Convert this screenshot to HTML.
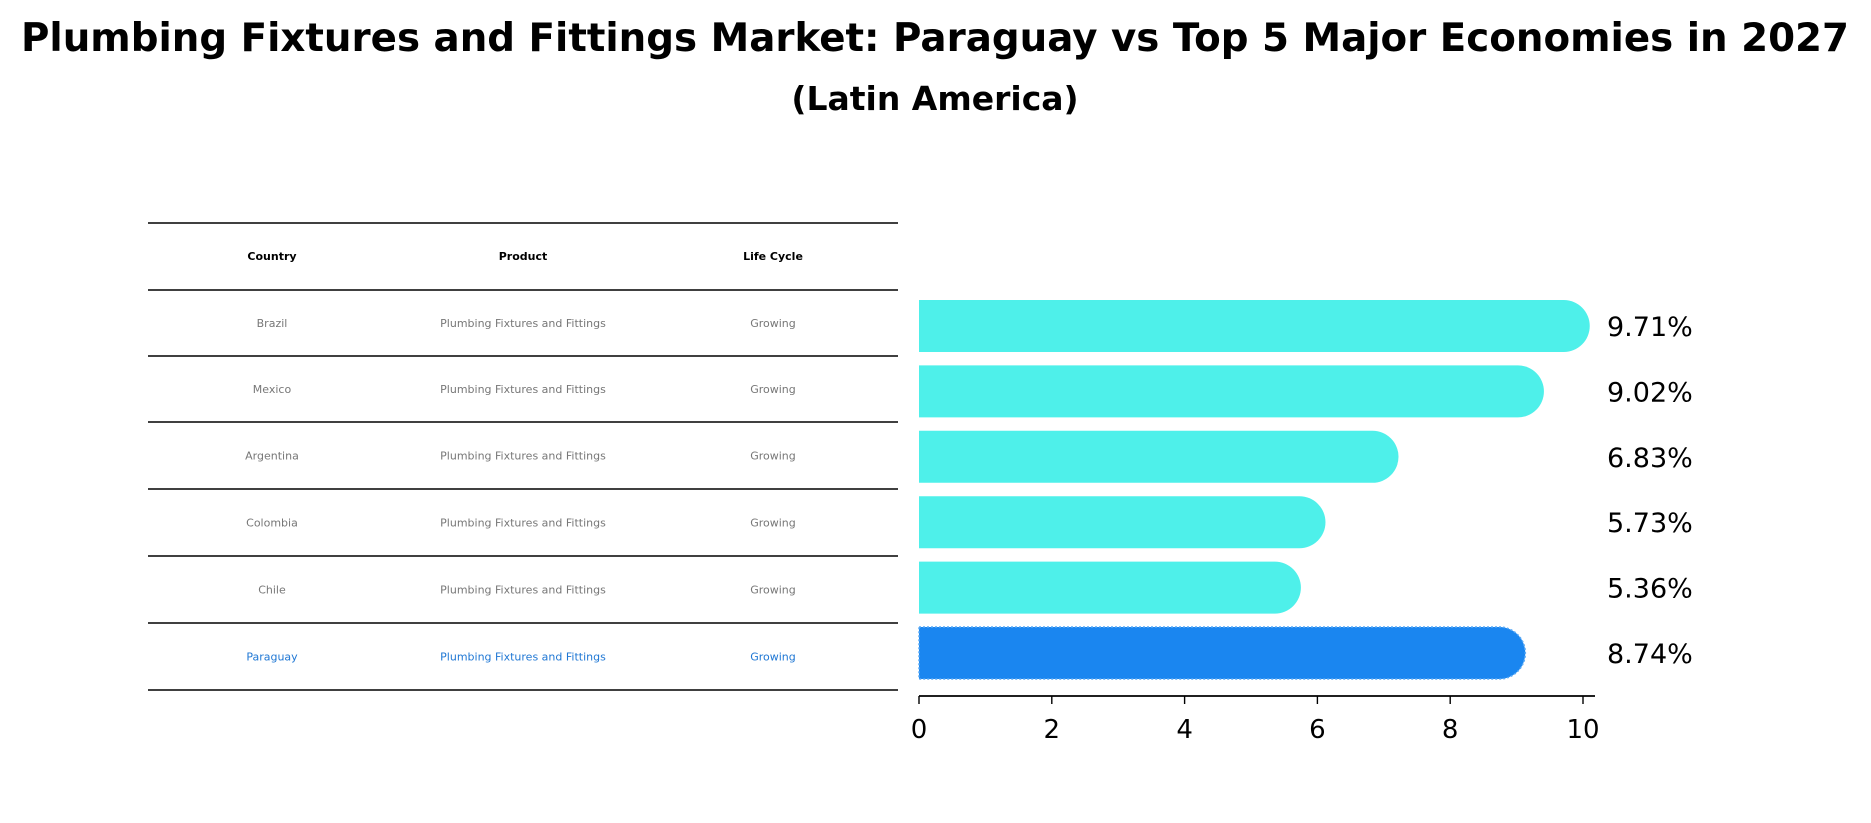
<!DOCTYPE html>
<html><head><meta charset="utf-8"><style>
body{margin:0;background:#fff;}
svg{display:block;font-family:"DejaVu Sans","Liberation Sans",sans-serif;}
</style></head><body>
<svg id="chart" width="1871" height="823" viewBox="0 0 1871 823">
<text x="935" y="51" text-anchor="middle" font-size="39" font-weight="bold" textLength="1828" lengthAdjust="spacingAndGlyphs">Plumbing Fixtures and Fittings Market: Paraguay vs Top 5 Major Economies in 2027</text>
<text x="935" y="110" text-anchor="middle" font-size="33" font-weight="bold">(Latin America)</text>
<g id="table"></g>
<g id="bars"></g>
</svg>
<script>
const countries = ["Brazil","Mexico","Argentina","Colombia","Chile","Paraguay"];
const values = [9.71,9.02,6.83,5.73,5.36,8.74];
const products = ["Plumbing Fixtures and Fittings","Plumbing Fixtures and Fittings","Plumbing Fixtures and Fittings","Plumbing Fixtures and Fittings","Plumbing Fixtures and Fittings","Plumbing Fixtures and Fittings"];
const lifeCycles = ["Growing","Growing","Growing","Growing","Growing","Growing"];
const xTicks = [0,2,4,6,8,10];
const headers = ["Country","Product","Life Cycle"];

const NS="http://www.w3.org/2000/svg";
function mk(tag,attrs,parent,txt){const e=document.createElementNS(NS,tag);for(const k in attrs)e.setAttribute(k,attrs[k]);if(txt!==undefined)e.textContent=txt;parent.appendChild(e);return e;}
const table=document.getElementById('table');
const bars=document.getElementById('bars');
const colX=[272,523,773];
const lineYs=[223,290,356,422,489,556,623,690];
lineYs.forEach((y,i)=>{const l=mk('line',{x1:148,x2:898,y1:y,y2:y,stroke:'#000','stroke-width':1.5},table);

});
headers.forEach((h,i)=>{const t=mk('text',{x:colX[i],y:260,'text-anchor':'middle','font-size':11,'font-weight':'bold'},table,h);

});
countries.forEach((c,r)=>{const y=(lineYs[r+1]+lineYs[r+2])/2+4;const col=r===countries.length-1?'#1f77d4':'#777';
[c,products[r],lifeCycles[r]].forEach((v,i)=>{const t=mk('text',{x:colX[i],y:y,'text-anchor':'middle','font-size':11,fill:col},table,v);

});});
const x0=919,x1=1583,xMax=10;
const xs=v=>x0+(v/xMax)*(x1-x0);
const top0=300,step=65.4,bh=52;
values.forEach((v,i)=>{const y=top0+i*step;const isP=i===values.length-1;const col=isP?'#1a86f0':'#4ef0ea';
const w=xs(v)-x0;const r=bh/2;
const p=mk('path',{d:`M${x0},${y} H${x0+w} A${r},${r} 0 0 1 ${x0+w} ${y+bh} H${x0} Z`,fill:col},bars);
if(isP){p.setAttribute('stroke','#5aaaf5');p.setAttribute('stroke-width','1.5');p.setAttribute('stroke-dasharray','2,2');}


const t=mk('text',{x:1607,y:y+bh/2+10,'font-size':27},bars,v.toFixed(2)+'%');

});
const ax=mk('line',{x1:x0,x2:1595,y1:696,y2:696,stroke:'#000','stroke-width':1.8},bars);


xTicks.forEach(v=>{const tk=mk('line',{x1:xs(v),x2:xs(v),y1:696,y2:704,stroke:'#000','stroke-width':1.4},bars);


const t=mk('text',{x:xs(v),y:738,'text-anchor':'middle','font-size':26},bars,String(v));

});
</script>
</body></html>
